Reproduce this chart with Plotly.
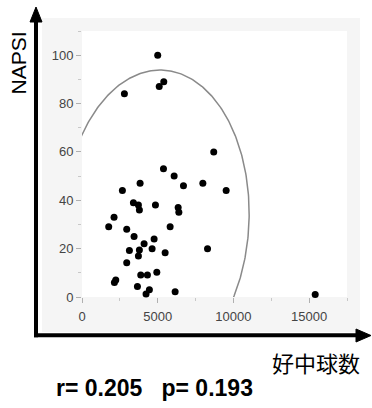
import numpy as np
import plotly.graph_objects as go

# Neutrophil count vs NAPSI score
neutrophil = [5000, 5100, 5400, 2800,
              5380, 6085, 6700, 3836, 2667,
              3395, 3725, 3790, 4850, 6350, 6395,
              2116, 1764, 5820, 2954, 3439, 4762,
              4100, 4630, 3790, 3130, 3725, 5490,
              2954, 3880, 4320, 4940, 2230, 2140,
              3660, 4450, 4230, 6150,
              8700, 7980, 9520, 8290, 15400]
napsi = [100, 87, 89, 84,
         53, 50, 46, 47, 44,
         39, 38, 36, 38, 37, 35,
         33, 29, 29, 28, 25, 24,
         22, 20, 19.4, 19.2, 17, 18.3,
         14.2, 9.1, 9.1, 10.2, 7, 6,
         4.3, 3, 1.2, 2.2,
         60, 47, 44, 20, 1]

x_ticks = [0, 5000, 10000, 15000]
y_ticks = [0, 20, 40, 60, 80, 100]
x_range = [0, 17500]
y_range = [0, 110]

r_value = 0.205
p_value = 0.193
x_title = "好中球数"
y_title = "NAPSI"

# Density ellipse radius (in standard deviations)
ELLIPSE_K = 2.5

W, H = 372, 408
L, R, T, B = 82, 25, 31, 111
PW, PH = W - L - R, H - T - B


def px(xp):
    return (xp - L) / PW


def py(yp):
    return (H - B - yp) / PH


xa = np.array(neutrophil, dtype=float)
ya = np.array(napsi, dtype=float)
cov = np.cov(np.vstack([xa, ya]))
vals, vecs = np.linalg.eigh(cov)
t = np.linspace(0, 2 * np.pi, 400)
circle = np.vstack([np.cos(t), np.sin(t)])
ell = vecs @ (np.sqrt(vals)[:, None] * circle) * ELLIPSE_K
ex = ell[0] + xa.mean()
ey = ell[1] + ya.mean()

fig = go.Figure()
fig.add_trace(go.Scatter(x=ex, y=ey, mode="lines",
                         line=dict(color="#8a8a8a", width=1.5),
                         hoverinfo="skip", showlegend=False))
fig.add_trace(go.Scatter(x=neutrophil, y=napsi, mode="markers",
                         marker=dict(color="black", size=7),
                         cliponaxis=False, showlegend=False))

tickfont = dict(family="Liberation Sans, Arial, sans-serif", size=13, color="#444")
fig.update_xaxes(range=x_range, tickvals=x_ticks, ticktext=[str(v) for v in x_ticks],
                 ticks="outside", ticklen=5, tickcolor="#b0b0b0", tickwidth=1,
                 minor=dict(ticks="outside", ticklen=3, dtick=2500, tick0=0,
                            tickcolor="#c8c8c8"),
                 ticklabelstandoff=2,
                 showgrid=False, zeroline=False, showline=False, tickfont=tickfont)
fig.update_yaxes(range=y_range, tickvals=y_ticks,
                 ticks="outside", ticklen=5, tickcolor="#b0b0b0", tickwidth=1,
                 minor=dict(ticks="outside", ticklen=3, dtick=10, tick0=0,
                            tickcolor="#c8c8c8"),
                 showgrid=False, zeroline=False, showline=False, tickfont=tickfont)

shapes = [
    # light grey frame and white plotting panel
    dict(type="rect", xref="paper", yref="paper", layer="below",
         x0=px(42), x1=px(360), y0=py(332), y1=py(18),
         fillcolor="#f5f5f5", line=dict(width=0)),
    dict(type="rect", xref="paper", yref="paper", layer="below",
         x0=0, x1=1, y0=0, y1=1, fillcolor="white", line=dict(width=0)),
    # black axis arrows
    dict(type="line", xref="paper", yref="paper",
         x0=px(36), x1=px(36), y0=py(337.3), y1=py(20),
         line=dict(color="black", width=4)),
    dict(type="path", xref="paper", yref="paper", fillcolor="black",
         line=dict(color="black", width=1),
         path=f"M {px(30)},{py(22)} L {px(42)},{py(22)} L {px(36)},{py(7)} Z"),
    dict(type="line", xref="paper", yref="paper",
         x0=px(34), x1=px(358), y0=py(335.3), y1=py(335.3),
         line=dict(color="black", width=4)),
    dict(type="path", xref="paper", yref="paper", fillcolor="black",
         line=dict(color="black", width=1),
         path=f"M {px(356)},{py(329)} L {px(356)},{py(342)} L {px(371)},{py(335.5)} Z"),
]

annotations = [
    dict(text=y_title, xref="paper", yref="paper", x=px(17.5), y=py(63),
         showarrow=False, textangle=-90, xanchor="center", yanchor="middle",
         font=dict(family="Liberation Sans, Arial, sans-serif", size=21, color="black")),
    dict(text=x_title, xref="paper", yref="paper", x=px(316), y=py(362),
         showarrow=False, xanchor="center", yanchor="middle",
         font=dict(family="Noto Sans CJK JP", size=22, color="black")),
    dict(text=f"r= {r_value:.3f}   p= {p_value:.3f}", xref="paper", yref="paper",
         x=px(154), y=py(388), showarrow=False, xanchor="center", yanchor="middle",
         font=dict(family="Liberation Sans, Arial, sans-serif", size=23, color="black",
                   weight="bold")),
]

fig.update_layout(width=W, height=H, margin=dict(l=L, r=R, t=T, b=B, pad=0),
                  paper_bgcolor="white", plot_bgcolor="rgba(0,0,0,0)",
                  shapes=shapes, annotations=annotations, showlegend=False)

fig.write_html("out.html")
